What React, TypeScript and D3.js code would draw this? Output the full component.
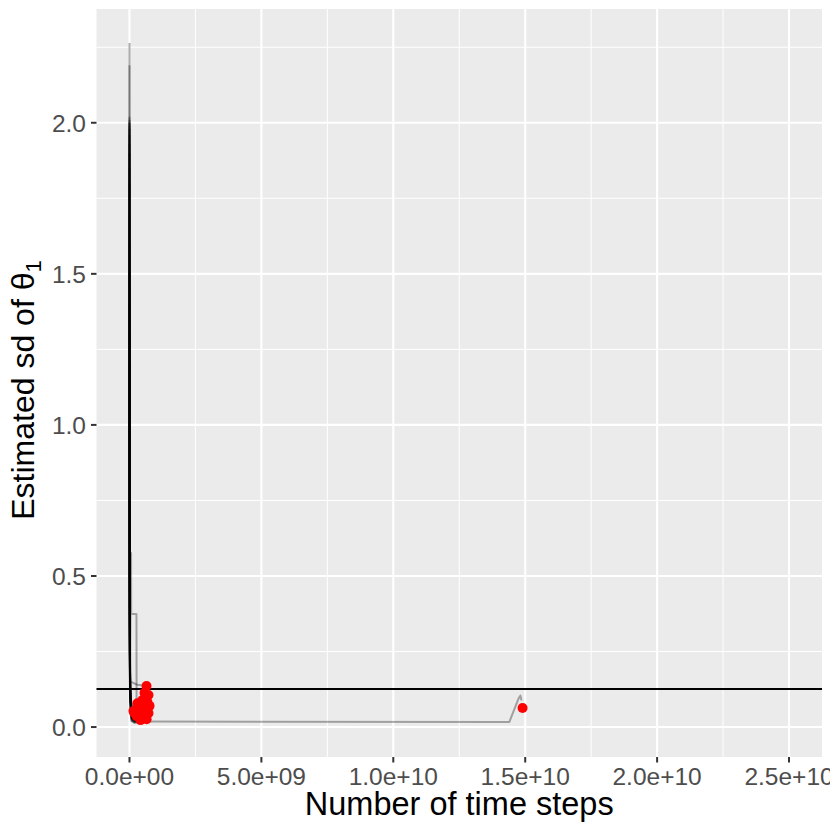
import React from "react";
import * as d3 from "d3";

// ---- data ----
const xTicks = [0, 5e9, 1e10, 1.5e10, 2e10, 2.5e10];
const xTickLabels = ["0.0e+00", "5.0e+09", "1.0e+10", "1.5e+10", "2.0e+10", "2.5e+10"];
const yTicks = [0, 0.5, 1.0, 1.5, 2.0];
const yTickLabels = ["0.0", "0.5", "1.0", "1.5", "2.0"];
const xDataRange = [0, 2.5e10];
const yDataRange = [0.0134, 2.264];
const trueSd = 0.1258;

// each run: [time step, estimated sd]
const runs: [number, number][][] = [
  [[0, 2.264], [3e6, 0.95], [1.5e7, 0.24], [4e7, 0.15], [3e8, 0.14], [6.46e8, 0.136]],
  [[0, 2.19], [3e6, 0.9], [1.5e7, 0.2], [6e7, 0.07], [2e8, 0.03], [5.7e8, 0.113]],
  [[0, 2.02], [4e6, 0.85], [2e7, 0.18], [7e7, 0.06], [2.5e8, 0.028], [7.2e8, 0.106]],
  [[0, 2.01], [3e6, 0.8], [2e7, 0.16], [8e7, 0.05], [3e8, 0.04], [4.9e8, 0.089]],
  [[0, 2.0], [3e6, 0.82], [1.8e7, 0.17], [5e7, 0.08], [2e8, 0.05], [6.8e8, 0.083]],
  [[0, 1.99], [4e6, 0.7], [2.5e7, 0.15], [9e7, 0.045], [2e8, 0.03], [3.0e8, 0.079]],
  [[0, 1.98], [3e6, 0.75], [2e7, 0.14], [6e7, 0.04], [1.5e8, 0.022], [7.6e8, 0.07]],
  [[0, 1.96], [5e6, 0.6], [2.2e7, 0.13], [7e7, 0.035], [2e8, 0.02], [4.6e8, 0.063]],
  [[0, 1.93], [4e6, 0.55], [3e7, 0.12], [1e8, 0.03], [2.5e8, 0.018], [6.1e8, 0.056]],
  [[0, 1.9], [3e6, 0.6], [2e7, 0.11], [5e7, 0.04], [1.2e8, 0.03], [1.5e8, 0.053]],
  [[0, 1.85], [4e6, 0.5], [2.5e7, 0.1], [8e7, 0.025], [2e8, 0.016], [3.8e8, 0.05]],
  [[0, 1.8], [3e6, 0.45], [2e7, 0.12], [1e8, 0.03], [3e8, 0.02], [7.2e8, 0.046]],
  [[0, 1.7], [5e6, 0.4], [3e7, 0.09], [9e7, 0.02], [1.8e8, 0.015], [2.7e8, 0.036]],
  [[0, 1.6], [4e6, 0.42], [2.5e7, 0.1], [1.1e8, 0.025], [3e8, 0.014], [5.3e8, 0.033]],
  [[0, 1.5], [3e6, 0.38], [2e7, 0.08], [7e7, 0.02], [2e8, 0.0134], [4.2e8, 0.023]],
  [[0, 1.4], [4e6, 0.35], [3e7, 0.09], [1.2e8, 0.022], [3.5e8, 0.015], [6.5e8, 0.026]],
  [[0, 1.3], [3e6, 0.33], [2e7, 0.1], [6e7, 0.03], [1.2e8, 0.025], [1.9e8, 0.046]],
  [[0, 1.2], [4e6, 0.3], [2.5e7, 0.11], [8e7, 0.04], [2e8, 0.035], [3.4e8, 0.07]],
  [[0, 2.0], [3e6, 0.8], [2e7, 0.15], [6e7, 0.576], [6.5e7, 0.374], [2.65e8, 0.374], [2.7e8, 0.025],
   [5e8, 0.018], [1.44e10, 0.017], [1.475e10, 0.095], [1.482e10, 0.104], [1.486e10, 0.088]],
];

const endTimes = [6.46e8, 5.7e8, 7.2e8, 4.9e8, 6.8e8, 3.0e8, 7.6e8, 4.6e8, 6.1e8, 1.5e8, 3.8e8, 7.2e8, 2.7e8, 5.3e8, 4.2e8, 6.5e8, 1.9e8, 3.4e8, 1.49e10];
const endSds = [0.136, 0.113, 0.106, 0.089, 0.083, 0.079, 0.07, 0.063, 0.056, 0.053, 0.05, 0.046, 0.036, 0.033, 0.023, 0.026, 0.046, 0.07, 0.063];

// ---- layout ----
const W = 830, H = 830;
const panel = { left: 96.5, right: 822, top: 9, bottom: 757 };
const FONT = "'Liberation Sans', Arial, Helvetica, sans-serif";

function expand([a, b]: number[]) {
  const d = (b - a) * 0.05;
  return [a - d, b + d];
}

export default function App() {
  const x = d3.scaleLinear().domain(expand(xDataRange)).range([panel.left, panel.right]);
  const y = d3.scaleLinear().domain(expand(yDataRange)).range([panel.bottom, panel.top]);
  const line = d3.line<[number, number]>().x((d) => x(d[0])).y((d) => y(d[1]));

  const xMinor = xTicks.slice(0, -1).map((v, i) => (v + xTicks[i + 1]) / 2).filter((v) => x(v) > panel.left && x(v) < panel.right);
  const yMinor = [-0.25, 0.25, 0.75, 1.25, 1.75, 2.25].filter((v) => y(v) > panel.top && y(v) < panel.bottom);

  return (
    <svg width={W} height={H} style={{ position: "absolute", left: 0, top: 0, display: "block" }} fontFamily={FONT}>
      <rect x={0} y={0} width={W} height={H} fill="#FFFFFF" />
      <rect x={panel.left} y={panel.top} width={panel.right - panel.left} height={panel.bottom - panel.top} fill="#EBEBEB" />
      {xMinor.map((v) => (
        <line key={"xm" + v} x1={x(v)} x2={x(v)} y1={panel.top} y2={panel.bottom} stroke="#FFFFFF" strokeWidth={1} />
      ))}
      {yMinor.map((v) => (
        <line key={"ym" + v} y1={y(v)} y2={y(v)} x1={panel.left} x2={panel.right} stroke="#FFFFFF" strokeWidth={1} />
      ))}
      {xTicks.map((v) => (
        <line key={"xM" + v} x1={x(v)} x2={x(v)} y1={panel.top} y2={panel.bottom} stroke="#FFFFFF" strokeWidth={2.1} />
      ))}
      {yTicks.map((v) => (
        <line key={"yM" + v} y1={y(v)} y2={y(v)} x1={panel.left} x2={panel.right} stroke="#FFFFFF" strokeWidth={2.1} />
      ))}

      <g>
        {runs.map((r, i) => (
          <path key={"run" + i} d={line(r) || ""} fill="none" stroke="#000000" strokeOpacity={0.32} strokeWidth={2} strokeLinejoin="round" />
        ))}
      </g>
      <line x1={panel.left} x2={panel.right} y1={y(trueSd)} y2={y(trueSd)} stroke="#000000" strokeWidth={2} />
      <g>
        {endTimes.map((t, i) => (
          <circle key={"pt" + i} cx={x(t)} cy={y(endSds[i])} r={5} fill="#FF0000" />
        ))}
      </g>

      {/* x axis */}
      {xTicks.map((v, i) => (
        <g key={"xt" + v}>
          <line x1={x(v)} x2={x(v)} y1={panel.bottom} y2={panel.bottom + 5.5} stroke="#333333" strokeWidth={2} />
          <text x={x(v)} y={785} textAnchor="middle" fontSize={24.5} fill="#4D4D4D">{xTickLabels[i]}</text>
        </g>
      ))}
      {/* y axis */}
      {yTicks.map((v, i) => (
        <g key={"yt" + v}>
          <line x1={panel.left - 5.5} x2={panel.left} y1={y(v)} y2={y(v)} stroke="#333333" strokeWidth={2} />
          <text x={86} y={y(v)} dy="0.36em" textAnchor="end" fontSize={24.5} fill="#4D4D4D">{yTickLabels[i]}</text>
        </g>
      ))}

      <text x={(panel.left + panel.right) / 2} y={815} textAnchor="middle" fontSize={32.5} fill="#000000">Number of time steps</text>
      <text transform={`translate(34, 390) rotate(-90)`} textAnchor="middle" fontSize={32} fill="#000000">
        Estimated sd of θ<tspan fontSize={22} dy={7}>1</tspan>
      </text>
    </svg>
  );
}
